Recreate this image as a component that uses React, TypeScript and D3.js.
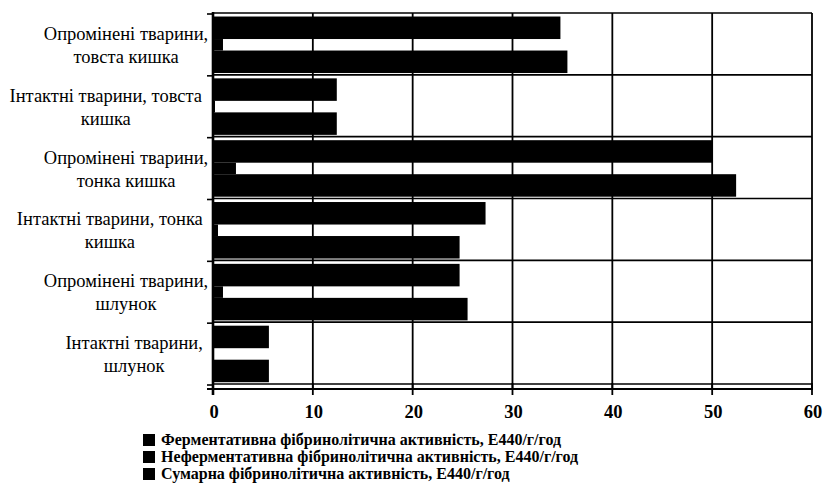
import React from "react";
import * as d3 from "d3";

const categoryLines: string[][] = [
  ["Опромінені тварини,", "товста кишка"],
  ["Інтактні тварини, товста", "кишка"],
  ["Опромінені тварини,", "тонка кишка"],
  ["Інтактні тварини, тонка", "кишка"],
  ["Опромінені тварини,", "шлунок"],
  ["Інтактні тварини,", "шлунок"],
];
const categories = categoryLines.map((l) => l.join(" "));

const fermentative = [34.8, 12.4, 50.0, 27.3, 24.7, 5.6];
const nonFermentative = [1.0, 0.2, 2.3, 0.5, 1.0, 0.05];
const total = [35.5, 12.4, 52.4, 24.7, 25.5, 5.6];

const seriesNames = [
  "Ферментативна фібринолітична активність, Е440/г/год",
  "Неферментативна фібринолітична активність, Е440/г/год",
  "Сумарна фібринолітична активність, Е440/г/год",
];
const seriesValues = [fermentative, nonFermentative, total];

const xTicks = [0, 10, 20, 30, 40, 50, 60];

const W = 824;
const H = 495;
const SERIF = "Times New Roman, Liberation Serif, Tinos, serif";

export default function App() {
  const left = 213, right = 812, top = 13, bottom = 384;
  const axisY = bottom + 5;
  const x = d3.scaleLinear().domain([0, 60]).range([left, right]);
  const y = d3.scaleBand<string>().domain(categories).range([top, bottom]).padding(0);
  const bw = y.bandwidth();
  const subStart = [0.057, 0.421, 0.607];
  const subHeight = [0.364, 0.186, 0.364];
  const bounds = categories.map((c) => y(c)!).concat([bottom]);

  const labelRight = 203;
  const labelSize = 18.5;
  const charW = 8.1;

  return (
    <svg
      width={W}
      height={H}
      fontFamily={SERIF}
      style={{ position: "absolute", left: 0, top: 0, display: "block", fontFamily: SERIF }}
    >
      <rect x={0} y={0} width={W} height={H} fill="#fff" />
      {xTicks.slice(1).map((t) => (
        <line key={"vg" + t} x1={x(t)} x2={x(t)} y1={top} y2={axisY}
          stroke="#000" strokeWidth={1.8} />
      ))}
      {bounds.map((b, i) => (
        <line key={"hg" + i} x1={left} x2={right} y1={b} y2={b}
          stroke="#000" strokeWidth={1.6} />
      ))}
      {seriesValues.map((vals, si) =>
        vals.map((v, i) => (
          <rect key={`b${si}-${i}`}
            x={x(0)}
            y={y(categories[i])! + subStart[si] * bw}
            width={x(v) - x(0)}
            height={subHeight[si] * bw}
            fill="#000" />
        ))
      )}
      <line x1={left - 6} x2={right + 1} y1={axisY} y2={axisY} stroke="#000" strokeWidth={1.8} />
      {xTicks.map((t) => (
        <line key={"xt" + t} x1={x(t)} x2={x(t)} y1={axisY - 6} y2={axisY + 6}
          stroke="#000" strokeWidth={1.8} />
      ))}
      <line x1={left} x2={left} y1={top - 1} y2={axisY + 6} stroke="#000" strokeWidth={2.6} />
      {bounds.map((b, i) => (
        <line key={"yt" + i} x1={left - 6} x2={left} y1={b + 1} y2={b + 1}
          stroke="#000" strokeWidth={1.6} />
      ))}
      {xTicks.map((t) => (
        <text key={"xl" + t} x={x(t) + 1} y={418} textAnchor="middle"
          fontFamily={SERIF} fontWeight="bold" fontSize={18.5}>
          {String(t)}
        </text>
      ))}
      {categoryLines.map((lines, i) => {
        const cy = y(categories[i])! + bw / 2;
        const maxChars = d3.max(lines, (l) => l.length) || 0;
        const cx = labelRight - (maxChars * charW) / 2;
        return (
          <g key={"cl" + i}>
            {lines.map((ln, li) => (
              <text key={li} x={cx} y={cy - 4 + li * 23} textAnchor="middle"
                fontFamily={SERIF} fontSize={labelSize} fill="#000">
                {ln}
              </text>
            ))}
          </g>
        );
      })}
      {seriesNames.map((name, i) => {
        const ly = 445 + i * 17;
        return (
          <g key={"lg" + i}>
            <rect x={143} y={ly - 11} width={12} height={12} fill="#000" />
            <text x={161} y={ly} fontFamily={SERIF} fontWeight="bold" fontSize={16}>
              {name}
            </text>
          </g>
        );
      })}
    </svg>
  );
}
